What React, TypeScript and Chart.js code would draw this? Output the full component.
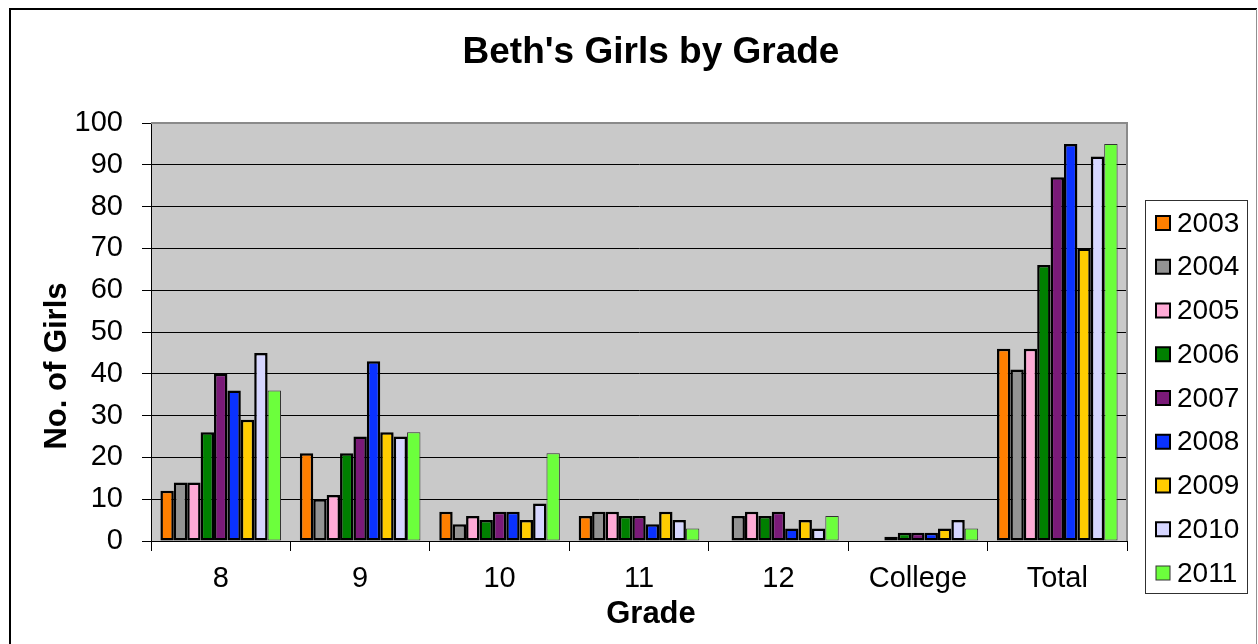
import React, { useEffect, useRef } from "react";
import { Chart, registerables } from "chart.js";

Chart.register(...registerables);

const categories = ["8", "9", "10", "11", "12", "College", "Total"];
const years = ["2003", "2004", "2005", "2006", "2007", "2008", "2009", "2010", "2011"];

const v2003 = [12, 21, 7, 6, 0, 0, 46];
const v2004 = [14, 10, 4, 7, 6, 0, 41];
const v2005 = [14, 11, 6, 7, 7, 1, 46];
const v2006 = [26, 21, 5, 6, 6, 2, 66];
const v2007 = [40, 25, 7, 6, 7, 2, 87];
const v2008 = [36, 43, 7, 4, 3, 2, 95];
const v2009 = [29, 26, 5, 7, 5, 3, 70];
const v2010 = [45, 25, 9, 5, 3, 5, 92];
const v2011 = [36, 26, 21, 3, 6, 3, 95];

const seriesValues = [v2003, v2004, v2005, v2006, v2007, v2008, v2009, v2010, v2011];
const colors = ["#FF7F00", "#939393", "#FFAAD6", "#008000", "#7A1A78", "#0A32FF", "#FFCC00", "#D6D6FF", "#6CFF3C"];
const borderColors = ["#000", "#000", "#000", "#000", "#000", "#000", "#000", "#000", "#333"];
const borderWidths = [2.5, 2.5, 2.5, 2.5, 2.5, 2.5, 2.5, 2.5, 1];

const yTicks = [0, 10, 20, 30, 40, 50, 60, 70, 80, 90, 100];

const titleText = "Beth's Girls by Grade";
const xTitle = "Grade";
const yTitle = "No. of Girls";

const FONT = "'Liberation Sans', Arial, sans-serif";

const decorPlugin = {
  id: "decor",
  beforeDraw(chart: any) {
    const { ctx, chartArea } = chart;
    ctx.save();
    ctx.fillStyle = "#fff";
    ctx.fillRect(0, 0, chart.width, chart.height);
    ctx.strokeStyle = "#000";
    ctx.lineWidth = 2;
    ctx.beginPath();
    ctx.moveTo(10, 700);
    ctx.lineTo(10, 9);
    ctx.lineTo(1257, 9);
    ctx.stroke();
    ctx.strokeStyle = "#909090";
    ctx.lineWidth = 1;
    ctx.beginPath();
    ctx.moveTo(1256.5, 9);
    ctx.lineTo(1256.5, 700);
    ctx.stroke();
    ctx.fillStyle = "#C9C9C9";
    ctx.fillRect(chartArea.left, chartArea.top, chartArea.right - chartArea.left, chartArea.bottom - chartArea.top);
    ctx.restore();
  },
  afterDatasetsDraw(chart: any) {
    const { ctx, chartArea } = chart;
    ctx.save();
    ctx.strokeStyle = "#8A8A8A";
    ctx.lineWidth = 2;
    ctx.beginPath();
    ctx.moveTo(chartArea.left, chartArea.top);
    ctx.lineTo(chartArea.right, chartArea.top);
    ctx.lineTo(chartArea.right, chartArea.bottom);
    ctx.stroke();
    ctx.restore();
  },
  afterDraw(chart: any) {
    const { ctx } = chart;
    ctx.save();
    ctx.fillStyle = "#000";
    ctx.textAlign = "center";
    ctx.textBaseline = "middle";
    ctx.font = `bold 37px ${FONT}`;
    ctx.fillText(titleText, 651, 53);
    ctx.font = `bold 31px ${FONT}`;
    ctx.fillText(xTitle, 651, 614);
    ctx.save();
    ctx.translate(57, 366);
    ctx.rotate(-Math.PI / 2);
    ctx.fillText(yTitle, 0, 0);
    ctx.restore();

    const lx = 1145.5, ly = 200.5, lw = 102, lh = 393;
    ctx.strokeStyle = "#303030";
    ctx.lineWidth = 1;
    ctx.strokeRect(lx, ly, lw, lh);
    ctx.font = `28px ${FONT}`;
    ctx.textAlign = "left";
    years.forEach((y, i) => {
      const cy = 223 + i * 43.75;
      ctx.fillStyle = colors[i];
      ctx.fillRect(1156, cy - 7, 14, 14);
      ctx.strokeStyle = borderColors[i];
      ctx.lineWidth = i === 8 ? 1 : 2;
      ctx.strokeRect(1156, cy - 7, 14, 14);
      ctx.fillStyle = "#000";
      ctx.fillText(y, 1177, cy + 1);
    });
    ctx.restore();
  },
};

export default function App() {
  const ref = useRef<HTMLCanvasElement>(null);
  useEffect(() => {
    if (!ref.current) return;
    const chart = new Chart(ref.current, {
      type: "bar",
      data: {
        labels: categories,
        datasets: years.map((y, i) => ({
          label: y,
          data: seriesValues[i],
          backgroundColor: colors[i],
          borderColor: borderColors[i],
          borderWidth: borderWidths[i],
          borderSkipped: false,
          categoryPercentage: 0.865,
          barPercentage: 1,
        })),
      },
      options: {
        animation: false,
        responsive: false,
        devicePixelRatio: 1,
        layout: { padding: { left: 11, top: 123, right: 131, bottom: 13 } },
        plugins: { legend: { display: false }, title: { display: false }, tooltip: { enabled: false } },
        scales: {
          x: {
            grid: { display: true, drawOnChartArea: false, drawTicks: true, tickLength: 10, color: "#000", offset: true },
            border: { display: true, color: "#000", width: 1 },
            ticks: { font: { family: FONT, size: 29 }, color: "#000", padding: 11, maxRotation: 0, autoSkip: false },
            afterFit: (s: any) => { s.height = 90; },
          },
          y: {
            min: 0,
            max: 100,
            afterBuildTicks: (s: any) => { s.ticks = yTicks.map((v) => ({ value: v })); },
            grid: { color: "#000", lineWidth: 1, tickLength: 9, drawTicks: true, tickColor: "#000" },
            border: { display: true, color: "#000", width: 1 },
            ticks: { font: { family: FONT, size: 29 }, color: "#000", padding: 19 },
            afterFit: (s: any) => { s.width = 140; },
          },
        },
      },
      plugins: [decorPlugin],
    });
    return () => chart.destroy();
  }, []);
  return (
    <div style={{ position: "absolute", left: 0, top: 0, width: 1258, height: 644 }}>
      <canvas ref={ref} width={1258} height={644} style={{ display: "block" }} />
    </div>
  );
}
